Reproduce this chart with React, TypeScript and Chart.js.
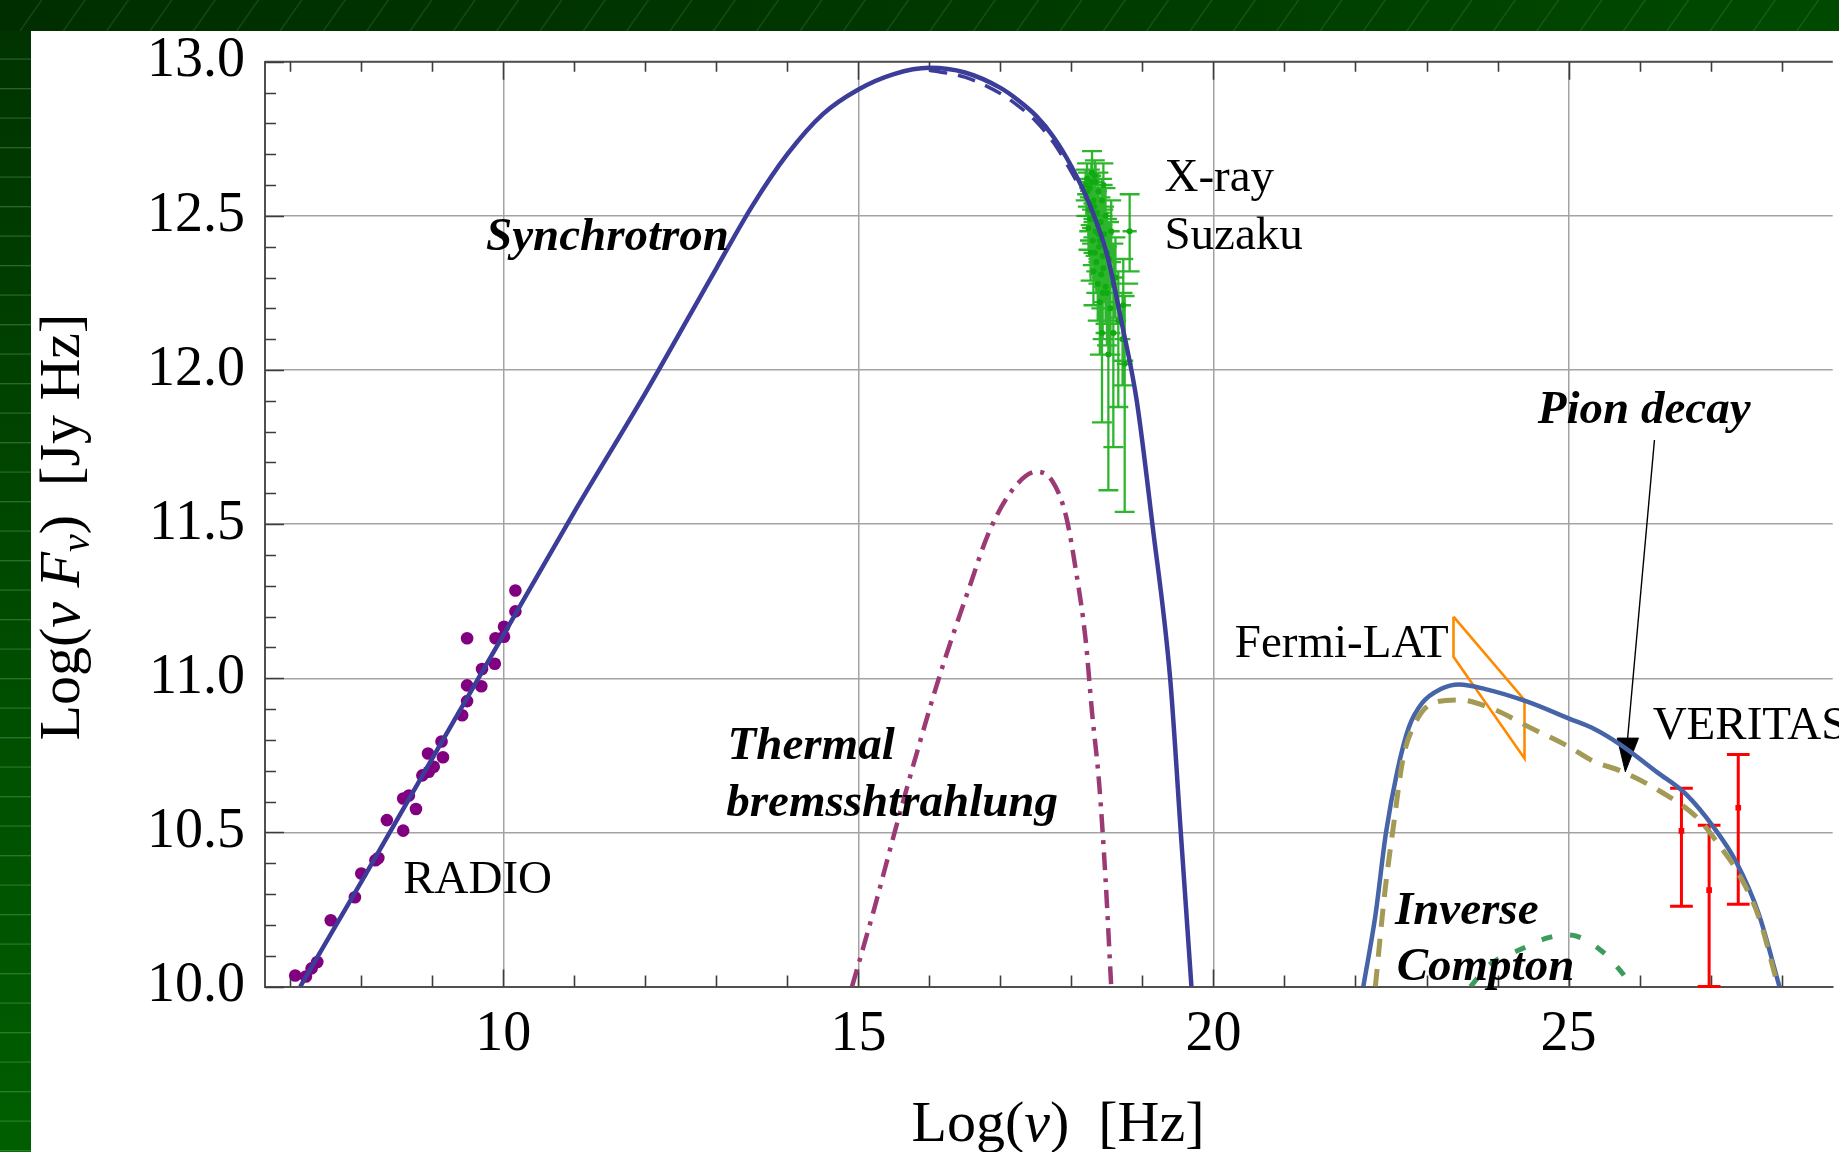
import React, { useEffect, useRef } from 'react';
import { Chart, registerables } from 'chart.js';

Chart.register(...registerables);

// ---------------- data (log10 nu [Hz], log10 nuFnu [Jy Hz]) ----------------
// Synchrotron model (solid)
const synchrotronX = [7.14, 8.0, 9.0, 10.0, 11.0, 12.0, 13.0, 13.5, 14.0, 14.5, 15.0, 15.5, 16.0, 16.5, 17.0, 17.25, 17.5, 17.75, 18.0, 18.25, 18.5, 18.72, 18.92, 19.14, 19.39, 19.54, 19.69];
const synchrotronY = [10.0, 10.34, 10.74, 11.14, 11.54, 11.925, 12.33, 12.53, 12.7, 12.83, 12.91, 12.96, 12.98, 12.965, 12.915, 12.875, 12.825, 12.755, 12.66, 12.54, 12.375, 12.14, 11.9, 11.5, 11.0, 10.5, 10.0];
// Synchrotron alternative model (dashed)
const synchrotronAltX = [16.0, 16.5, 17.0, 17.25, 17.5, 17.75, 18.0, 18.15];
const synchrotronAltY = [12.972, 12.95, 12.897, 12.857, 12.807, 12.737, 12.642, 12.58];
// Thermal bremsstrahlung (dash-dot)
const thermalX = [14.91, 15.22, 15.51, 15.85, 16.16, 16.54, 16.85, 17.2, 17.51, 17.73, 17.92, 18.07, 18.2, 18.29, 18.39, 18.48, 18.56];
const thermalY = [10.0, 10.25, 10.5, 10.78, 11.02, 11.28, 11.48, 11.62, 11.67, 11.64, 11.53, 11.34, 11.125, 10.89, 10.66, 10.35, 10.0];
// Total gamma-ray model (solid)
const gammaTotalX = [22.11, 22.28, 22.43, 22.59, 22.75, 22.94, 23.2, 23.46, 23.83, 24.41, 25.0, 25.37, 25.73, 26.25, 26.65, 27.05, 27.36, 27.68, 27.97];
const gammaTotalY = [10.0, 10.23, 10.5, 10.7, 10.84, 10.92, 10.965, 10.98, 10.965, 10.925, 10.87, 10.835, 10.785, 10.695, 10.625, 10.515, 10.405, 10.235, 10.0];
// Pion decay (dashed)
const pionX = [22.28, 22.41, 22.54, 22.67, 22.83, 23.09, 23.46, 23.94, 24.46, 24.99, 25.36, 25.73, 26.3, 26.82, 27.15, 27.36, 27.68, 27.95];
const pionY = [10.0, 10.3, 10.53, 10.74, 10.85, 10.92, 10.93, 10.9, 10.84, 10.78, 10.73, 10.7, 10.632, 10.546, 10.45, 10.38, 10.225, 10.0];
// Inverse Compton (dotted)
const icX = [23.62, 23.88, 24.32, 24.69, 24.95, 25.11, 25.48, 25.76, 25.9];
const icY = [10.0, 10.07, 10.12, 10.157, 10.168, 10.164, 10.113, 10.043, 10.0];
// Fermi-LAT butterfly outline
const fermiX = [23.38, 24.38, 24.38, 23.38, 23.38];
const fermiY = [11.2, 10.93, 10.74, 11.07, 11.2];
// VERITAS points
const veritasX = [26.59, 26.98, 27.39];
const veritasY = [10.505, 10.313, 10.58];
const veritasLo = [10.261, 10.0, 10.267];
const veritasHi = [10.643, 10.523, 10.753];
// Radio points
const radioX = [7.07, 7.22, 7.3, 7.38, 7.57, 7.91, 8.0, 8.2, 8.24, 8.36, 8.59, 8.59, 8.67, 8.77, 8.86, 8.94, 8.95, 9.02, 9.13, 9.15, 9.42, 9.49, 9.49, 9.49, 9.69, 9.7, 9.88, 9.89, 10.01, 10.01, 10.17, 10.17];
const radioY = [10.036, 10.033, 10.059, 10.08, 10.215, 10.29, 10.367, 10.41, 10.417, 10.54, 10.506, 10.61, 10.62, 10.576, 10.685, 10.756, 10.697, 10.713, 10.795, 10.744, 10.88, 11.13, 10.926, 10.977, 10.974, 11.03, 11.047, 11.13, 11.135, 11.167, 11.217, 11.285];
// X-ray Suzaku points
const xrayX = [18.29, 18.22, 18.34, 18.26, 18.38, 18.21, 18.31, 18.43, 18.25, 18.36, 18.29, 18.41, 18.24, 18.34, 18.46, 18.3, 18.39, 18.27, 18.44, 18.35, 18.31, 18.42, 18.37, 18.48, 18.59, 18.82, 18.73, 18.5, 18.43, 18.52, 18.59, 18.75, 18.72, 18.66, 18.55, 18.4, 18.62, 18.53, 18.48, 18.56, 18.2, 18.33, 18.27, 18.45, 18.38, 18.23, 18.28, 18.32, 18.37, 18.26, 18.4, 18.33, 18.45, 18.5, 18.44];
const xrayY = [12.64, 12.62, 12.61, 12.59, 12.58, 12.56, 12.55, 12.55, 12.52, 12.51, 12.49, 12.48, 12.46, 12.45, 12.44, 12.42, 12.4, 12.38, 12.37, 12.35, 12.32, 12.31, 12.28, 12.27, 12.28, 12.45, 12.21, 12.25, 12.12, 12.05, 12.12, 12.02, 12.1, 12.16, 12.2, 12.22, 12.3, 12.36, 12.5, 12.45, 12.6, 12.63, 12.54, 12.6, 12.44, 12.58, 12.61, 12.53, 12.47, 12.49, 12.42, 12.38, 12.33, 12.38, 12.25];
const xrayXErr = [0.08, 0.08, 0.09, 0.1, 0.1, 0.09, 0.1, 0.12, 0.1, 0.1, 0.11, 0.12, 0.09, 0.11, 0.12, 0.1, 0.11, 0.1, 0.12, 0.11, 0.1, 0.12, 0.1, 0.12, 0.35, 0.1, 0.11, 0.11, 0.09, 0.1, 0.1, 0.11, 0.11, 0.11, 0.1, 0.09, 0.11, 0.11, 0.1, 0.12, 0.08, 0.09, 0.1, 0.13, 0.12, 0.08, 0.09, 0.1, 0.11, 0.09, 0.12, 0.1, 0.12, 0.12, 0.11];
const xrayYLo = [12.57, 12.57, 12.55, 12.53, 12.52, 12.5, 12.48, 12.48, 12.45, 12.44, 12.41, 12.4, 12.39, 12.37, 12.35, 12.34, 12.31, 12.29, 12.27, 12.25, 12.21, 12.2, 12.16, 12.15, 12.15, 12.32, 12.03, 12.08, 11.83, 11.61, 11.75, 11.54, 11.95, 11.88, 12.05, 12.05, 12.17, 12.25, 12.41, 12.35, 12.55, 12.58, 12.47, 12.52, 12.36, 12.53, 12.55, 12.46, 12.39, 12.42, 12.33, 12.29, 12.22, 12.27, 12.1];
const xrayYHi = [12.71, 12.67, 12.67, 12.65, 12.64, 12.62, 12.62, 12.62, 12.59, 12.58, 12.57, 12.56, 12.53, 12.53, 12.53, 12.5, 12.49, 12.47, 12.47, 12.45, 12.43, 12.42, 12.4, 12.39, 12.41, 12.57, 12.36, 12.4, 12.3, 12.25, 12.28, 12.24, 12.25, 12.32, 12.35, 12.36, 12.43, 12.48, 12.59, 12.55, 12.65, 12.68, 12.61, 12.67, 12.52, 12.64, 12.67, 12.6, 12.55, 12.56, 12.51, 12.47, 12.44, 12.49, 12.38];
// Pointer arrow for "Pion decay"
const arrowX = [26.21, 25.83];
const arrowY = [11.773, 10.8];
const arrowHeadX = [25.686, 25.985, 25.8, 25.686];
const arrowHeadY = [10.806, 10.806, 10.697, 10.806];

// axis ranges / ticks
const X_MIN = 6.644;
const X_MAX = 28.72;
const Y_MIN = 10;
const Y_MAX = 13;
const X_STEP = 1;
const Y_STEP = 0.1;

// ---------------- styling ----------------
const SERIF = '"Liberation Serif", "Times New Roman", Times, serif';
const XRAY_CAP = 0.14; // half-width of error-bar caps in x units
const VERITAS_CAP = 0.16;

const notes = [
  { text: 'Synchrotron', x: 9.757, y: 12.389, bold: true },
  { text: 'X-ray', x: 19.31, y: 12.582, bold: false },
  { text: 'Suzaku', x: 19.31, y: 12.391, bold: false },
  { text: 'RADIO', x: 8.59, y: 10.304, bold: false },
  { text: 'Thermal', x: 13.158, y: 10.739, bold: true },
  { text: 'bremsshtrahlung', x: 13.139, y: 10.552, bold: true },
  { text: 'Pion decay', x: 24.568, y: 11.827, bold: true },
  { text: 'Fermi-LAT', x: 20.3, y: 11.068, bold: false },
  { text: 'VERITAS', x: 26.185, y: 10.802, bold: false },
  { text: 'Inverse', x: 22.555, y: 10.203, bold: true },
  { text: 'Compton', x: 22.58, y: 10.021, bold: true },
];

const xy = (xs: number[], ys: number[]) => xs.map((x, i) => ({ x, y: ys[i] }));

function errorBars(xs: number[], ys: number[], lo: number[], hi: number[], cap: number, xerr?: number[]) {
  const pts: { x: number; y: number | null }[] = [];
  for (let i = 0; i < xs.length; i++) {
    const x = xs[i];
    pts.push({ x, y: lo[i] }, { x, y: hi[i] }, { x, y: null });
    pts.push({ x: x - cap, y: lo[i] }, { x: x + cap, y: lo[i] }, { x, y: null });
    pts.push({ x: x - cap, y: hi[i] }, { x: x + cap, y: hi[i] }, { x, y: null });
    if (xerr) pts.push({ x: x - xerr[i], y: ys[i] }, { x: x + xerr[i], y: ys[i] }, { x, y: null });
  }
  return pts;
}

const isMajorX = (v: number) => Math.abs(v % 5) < 1e-9;
const isMajorY = (v: number) => Math.round(v * 10) % 5 === 0;

const decorPlugin = {
  id: 'decor',
  beforeDatasetsDraw(chart: any) {
    const { ctx, chartArea: a } = chart;
    const xs = chart.scales.x;
    const ys = chart.scales.y;
    ctx.save();
    ctx.strokeStyle = '#505050';
    ctx.lineWidth = 2;
    ctx.beginPath();
    ctx.moveTo(a.left, a.top);
    ctx.lineTo(a.right, a.top);
    ctx.stroke();
    ctx.strokeStyle = '#3c3c3c';
    ctx.lineWidth = 1.6;
    ctx.beginPath();
    for (const t of xs.ticks) {
      const p = Math.round(xs.getPixelForValue(t.value)) + 0.5;
      const major = isMajorX(t.value);
      ctx.moveTo(p, a.top);
      ctx.lineTo(p, a.top + (major ? 18 : 10));
      ctx.moveTo(p, a.bottom);
      ctx.lineTo(p, a.bottom - (major ? 17 : 11));
    }
    for (const t of ys.ticks) {
      const p = Math.round(ys.getPixelForValue(t.value)) + 0.5;
      ctx.moveTo(a.left, p);
      ctx.lineTo(a.left + (isMajorY(t.value) ? 19 : 11), p);
    }
    ctx.stroke();
    ctx.restore();
  },
  afterDatasetsDraw(chart: any) {
    const { ctx } = chart;
    const xs = chart.scales.x;
    const ys = chart.scales.y;
    ctx.save();
    ctx.fillStyle = '#000';
    ctx.textAlign = 'left';
    ctx.textBaseline = 'alphabetic';
    for (const n of notes) {
      ctx.font = (n.bold ? 'italic bold ' : '') + '47px ' + SERIF;
      ctx.fillText(n.text, xs.getPixelForValue(n.x), ys.getPixelForValue(n.y));
    }
    ctx.restore();
  },
  afterDraw(chart: any) {
    const { ctx } = chart;
    const reg = '58px ' + SERIF;
    const ital = 'italic 58px ' + SERIF;
    const sub = 'italic 40px ' + SERIF;
    const drawRuns = (runs: [string, string, number][]) => {
      let total = 0;
      for (const [t, f] of runs) {
        ctx.font = f;
        total += ctx.measureText(t).width;
      }
      let x = -total / 2;
      for (const [t, f, dy] of runs) {
        ctx.font = f;
        ctx.fillText(t, x, dy);
        x += ctx.measureText(t).width;
      }
    };
    ctx.save();
    ctx.fillStyle = '#000';
    ctx.textAlign = 'left';
    ctx.textBaseline = 'alphabetic';
    // x-axis title
    ctx.save();
    ctx.translate(1058, 1141);
    drawRuns([
      ['Log(', reg, 0],
      ['\u03bd', ital, 0],
      [')  [Hz]', reg, 0],
    ]);
    ctx.restore();
    // y-axis title
    ctx.save();
    ctx.translate(79, 527);
    ctx.rotate(-Math.PI / 2);
    drawRuns([
      ['Log(', reg, 0],
      ['\u03bd ', ital, 0],
      ['F', ital, 0],
      ['\u03bd', sub, 10],
      [')  [Jy Hz]', reg, 0],
    ]);
    ctx.restore();
    ctx.restore();
  },
};

function App() {
  const ref = useRef<HTMLCanvasElement | null>(null);

  useEffect(() => {
    const canvas = ref.current;
    if (!canvas) return;

    const lineDs = (data: any[], color: string, width: number, dash: number[] = [], extra: any = {}) => ({
      type: 'line',
      data,
      borderColor: color,
      backgroundColor: color,
      borderWidth: width,
      borderDash: dash,
      pointRadius: 0,
      pointHoverRadius: 0,
      fill: false,
      spanGaps: false,
      ...extra,
    });

    const tickFont = { family: SERIF, size: 56 };

    const chart = new Chart(canvas, {
      type: 'scatter',
      data: {
        datasets: [
          lineDs(xy(thermalX, thermalY), '#9b3a74', 4.5, [18, 8, 4, 8], { cubicInterpolationMode: 'monotone' }),
          lineDs(xy(synchrotronAltX, synchrotronAltY), '#3b3d99', 3.5, [18, 11], { cubicInterpolationMode: 'monotone' }),
          lineDs(xy(synchrotronX, synchrotronY), '#3b3d99', 4.5, [], { cubicInterpolationMode: 'monotone' }),
          lineDs(xy(icX, icY), '#3c9c5c', 5, [11, 18], { cubicInterpolationMode: 'monotone' }),
          lineDs(xy(pionX, pionY), '#a39a55', 5, [18, 12], { cubicInterpolationMode: 'monotone' }),
          lineDs(xy(gammaTotalX, gammaTotalY), '#4664a8', 4.5, [], { cubicInterpolationMode: 'monotone' }),
          lineDs(errorBars(xrayX, xrayY, xrayYLo, xrayYHi, XRAY_CAP, xrayXErr), 'rgba(16,172,16,0.88)', 2.3),
          {
            type: 'scatter',
            data: xy(xrayX, xrayY),
            pointRadius: 3,
            pointBackgroundColor: '#10a010',
            pointBorderWidth: 0,
          },
          {
            type: 'scatter',
            data: xy(radioX, radioY),
            pointRadius: 6.3,
            pointBackgroundColor: '#800080',
            pointBorderWidth: 0,
            clip: false,
          },
          lineDs(xy(fermiX, fermiY), '#ff8a00', 2.6),
          lineDs(errorBars(veritasX, veritasY, veritasLo, veritasHi, VERITAS_CAP), '#ff0000', 3, [], { clip: false }),
          {
            type: 'scatter',
            data: xy(veritasX, veritasY),
            pointStyle: 'rect',
            pointRadius: 4,
            pointBackgroundColor: '#ff0000',
            pointBorderWidth: 0,
          },
          lineDs(xy(arrowX, arrowY), '#000000', 1.4),
          lineDs(xy(arrowHeadX, arrowHeadY), '#000000', 1, [], { fill: 'shape', backgroundColor: '#000000' }),
        ],
      },
      options: {
        animation: false,
        responsive: false,
        maintainAspectRatio: false,
        events: [],
        layout: { padding: { top: 61.7, left: 0, right: 0, bottom: 0 } },
        plugins: {
          legend: { display: false },
          tooltip: { enabled: false },
          title: { display: false },
        },
        scales: {
          x: {
            type: 'linear',
            position: 'bottom',
            min: X_MIN,
            max: X_MAX,
            afterFit: (s: any) => {
              s.height = 165.4;
            },
            ticks: {
              stepSize: X_STEP,
              includeBounds: false,
              autoSkip: false,
              maxRotation: 0,
              minRotation: 0,
              padding: 15,
              color: '#000',
              font: tickFont,
              callback: (v: any) => (isMajorX(Number(v)) ? String(Number(v)) : ''),
            },
            grid: {
              drawTicks: false,
              lineWidth: 1.5,
              color: (c: any) => (c.tick && isMajorX(c.tick.value) ? '#a3a3a3' : 'rgba(0,0,0,0)'),
            },
            border: { display: true, color: '#505050', width: 2 },
            title: { display: false },
          },
          y: {
            type: 'linear',
            position: 'left',
            min: Y_MIN,
            max: Y_MAX,
            afterFit: (s: any) => {
              s.width = 265;
            },
            ticks: {
              stepSize: Y_STEP,
              autoSkip: false,
              padding: 20,
              color: '#000',
              font: tickFont,
              callback: (v: any) => {
                const n = Math.round(Number(v) * 10);
                return n % 5 === 0 ? (n / 10).toFixed(1) : '';
              },
            },
            grid: {
              drawTicks: false,
              lineWidth: 1.5,
              color: (c: any) => (c.tick && isMajorY(c.tick.value) ? '#a3a3a3' : 'rgba(0,0,0,0)'),
            },
            border: { display: true, color: '#505050', width: 2 },
            title: { display: false },
          },
        },
      },
      plugins: [decorPlugin],
    } as any);

    return () => chart.destroy();
  }, []);

  return (
    <div
      style={{
        position: 'fixed',
        left: 0,
        top: 0,
        width: 1839,
        height: 1152,
        overflow: 'hidden',
        background: '#003a00',
      }}
    >
      <div
        style={{
          position: 'absolute',
          left: 0,
          top: 0,
          width: '100%',
          height: 31,
          background:
            'repeating-linear-gradient(125deg, rgba(0,0,0,0) 0px, rgba(0,0,0,0) 33px, rgba(160,210,160,0.16) 34px, rgba(0,0,0,0) 35.5px), linear-gradient(90deg, #002e00 0%, #003600 45%, #004a00 100%)',
        }}
      />
      <div
        style={{
          position: 'absolute',
          left: 0,
          top: 31,
          width: 31,
          bottom: 0,
          background:
            'repeating-linear-gradient(180deg, rgba(0,0,0,0) 0px, rgba(0,0,0,0) 27px, rgba(150,210,150,0.28) 28px, rgba(0,0,0,0) 29.5px), linear-gradient(180deg, #003300 0%, #004a00 50%, #005e00 100%)',
        }}
      />
      <div style={{ position: 'absolute', left: 31, top: 31, right: 0, bottom: 0, background: '#ffffff' }} />
      <canvas ref={ref} width={1839} height={1152} style={{ position: 'absolute', left: 0, top: 0 }} />
    </div>
  );
}

export default App;
